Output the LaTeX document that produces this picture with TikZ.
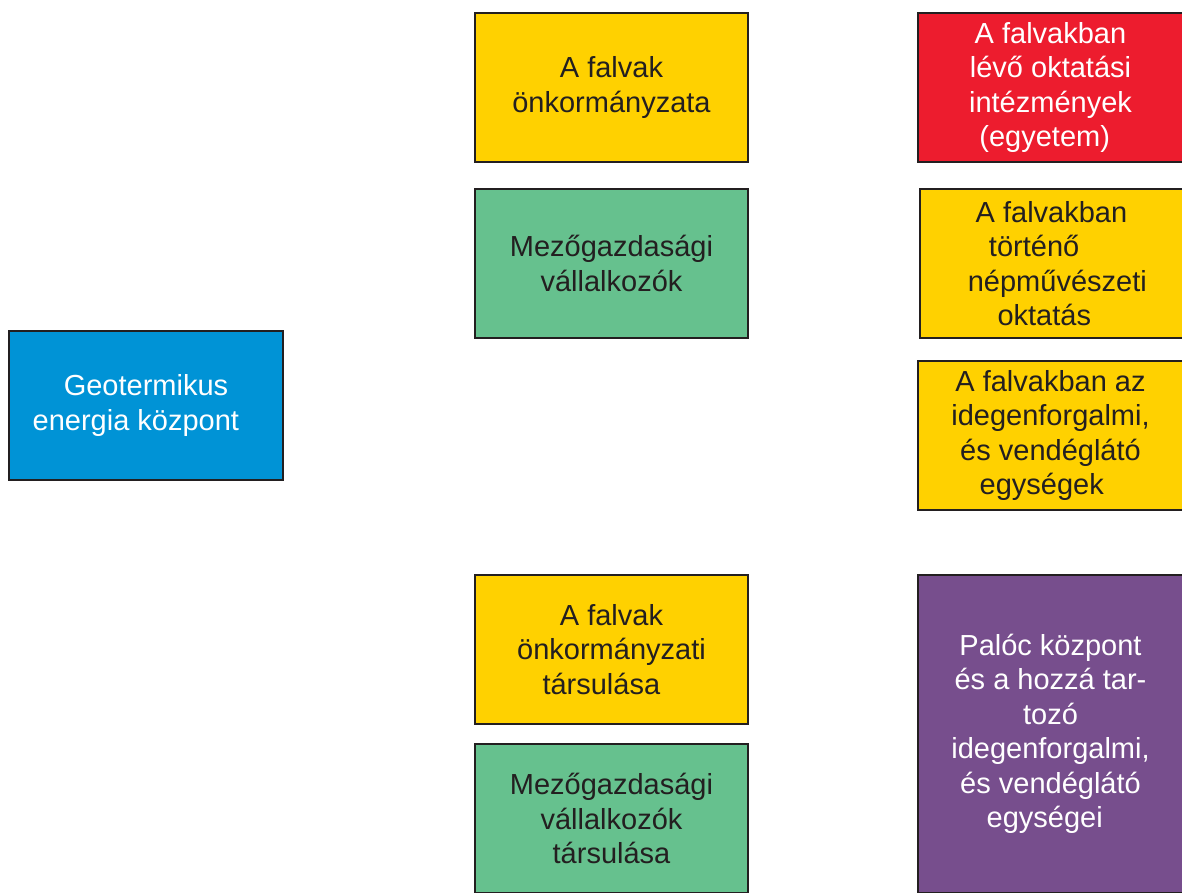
\documentclass[tikz,border=0pt]{standalone}
\usepackage{fontspec}
\setmainfont{Liberation Sans}
\definecolor{cyellow}{HTML}{FFD100}
\definecolor{cgreen}{HTML}{66C18E}
\definecolor{cblue}{HTML}{0093D6}
\definecolor{cred}{HTML}{ED1C2E}
\definecolor{cpurple}{HTML}{774E8D}
\definecolor{cborder}{HTML}{231F20}
\tikzset{
  box/.style={draw=cborder, line width=2pt, rectangle, inner sep=0pt, align=center,
    font=\fontsize{29}{34.5}\selectfont, minimum width=#1},
  box/.default={273pt},
  darktext/.style={text=cborder},
  lighttext/.style={text=white},
}
\begin{document}
\begin{tikzpicture}[x=1pt,y=-1pt]
\useasboundingbox (0,0) rectangle (1182,892);
\clip (0,0) rectangle (1182,892);
\node[box=274pt, minimum height=149pt, fill=cblue, lighttext] (geo) at (146,405.5) {Geotermikus\\energia központ\hspace*{0.7em}};
\node[box, minimum height=149pt, fill=cyellow, darktext] (fal) at (611.5,87.5) {A falvak\\önkormányzata};
\node[box, minimum height=149pt, fill=cgreen, darktext] (mez) at (611.5,263.5) {Mezőgazdasági\\vállalkozók};
\node[box, minimum height=149pt, fill=cyellow, darktext] (tars) at (611.5,649.5) {A falvak\\önkormányzati\\társulása\hspace*{0.7em}};
\node[box, minimum height=149pt, fill=cgreen, darktext] (meztars) at (611.5,818.5) {Mezőgazdasági\\vállalkozók\\társulása};
\node[box=265pt, minimum height=149pt, fill=cred, lighttext] (okt) at (1050.5,87.5) {A falvakban\\lévő oktatási\\intézmények\\\hspace*{-0.4em}(egyetem)};
\node[box=263pt, minimum height=149pt, fill=cyellow, darktext] (nep) at (1051.5,263.5) {A falvakban\\\hspace*{-1.2em}történő\hspace*{1.2em}\\\hspace*{0.4em}népművészeti\\oktatás\hspace*{0.5em}};
\node[box=265pt, minimum height=149pt, fill=cyellow, darktext] (ide) at (1050.5,435.5) {A falvakban az\\idegenforgalmi,\\és vendéglátó\\egységek\hspace*{0.6em}};
\node[box=265pt, minimum height=318pt, fill=cpurple, lighttext] (pal) at (1050.5,734) {Palóc központ\\és a hozzá tar-\\tozó\hspace*{1em}\\idegenforgalmi,\\és vendéglátó\\egységei\hspace*{0.4em}};
\end{tikzpicture}
\end{document}
